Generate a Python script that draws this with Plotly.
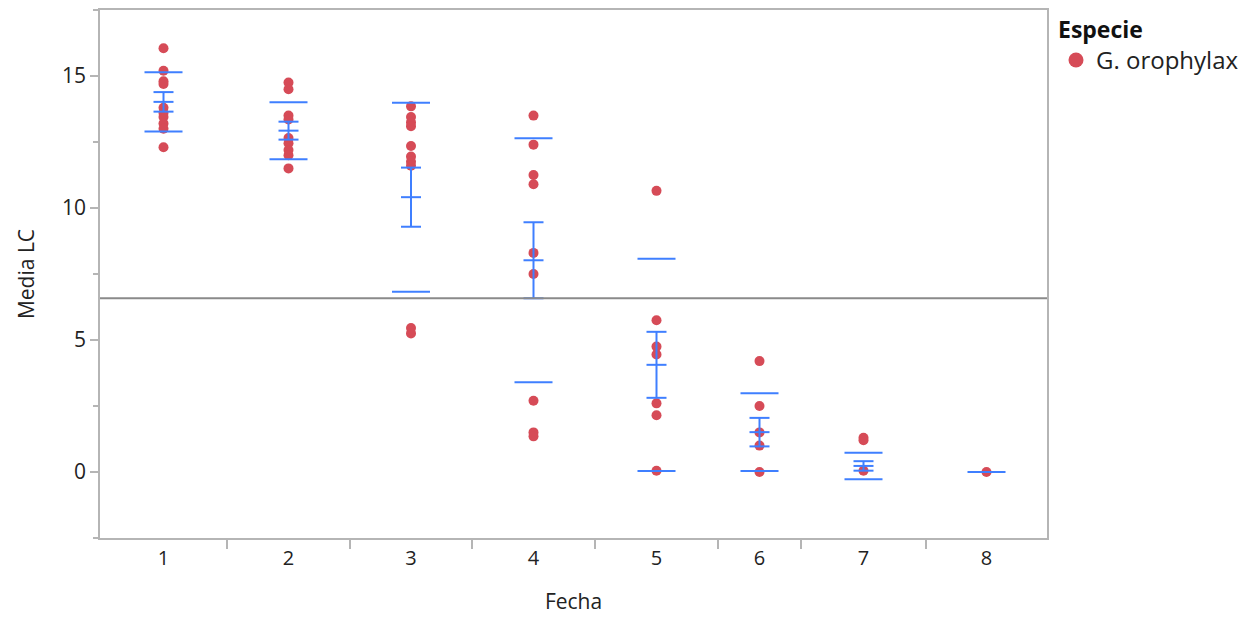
import plotly.graph_objects as go

# ---- data ----
fecha = ["1", "2", "3", "4", "5", "6", "7", "8"]
lc_1 = [16.05, 15.2, 14.8, 14.7, 13.8, 13.6, 13.45, 13.2, 13.0, 12.3]
lc_2 = [14.75, 14.5, 13.5, 13.35, 12.65, 12.45, 12.2, 12.0, 11.5]
lc_3 = [13.85, 13.45, 13.25, 13.1, 12.35, 11.95, 11.75, 11.6, 5.45, 5.25]
lc_4 = [13.5, 12.4, 11.25, 10.9, 8.3, 7.5, 2.7, 1.5, 1.35]
lc_5 = [10.65, 5.75, 4.75, 4.45, 2.6, 2.15, 0.05]
lc_6 = [4.2, 2.5, 1.5, 1.0, 0.0]
lc_7 = [1.3, 1.2, 0.05]
lc_8 = [0.0]
medias = [14.02, 12.93, 10.41, 8.02, 4.06, 1.51, 0.23, 0.0]
desv_est = [1.12, 1.08, 3.58, 4.62, 4.02, 1.47, 0.50, None]
err_est = [0.37, 0.34, 1.12, 1.44, 1.25, 0.54, 0.18, None]
media_global = 6.58

grupos = [lc_1, lc_2, lc_3, lc_4, lc_5, lc_6, lc_7, lc_8]

# ---- layout helpers (category widths as drawn by JMP) ----
anchos = [127, 123, 122, 123, 123, 83, 125, 121]
bordes = [0]
for w in anchos:
    bordes.append(bordes[-1] + w)
centros = [(bordes[i] + bordes[i + 1]) / 2 for i in range(len(anchos))]

ROJO = "#D64B57"
AZUL = "#3F7FFF"
GRIS = "#b5b5b5"
FONT = "Open Sans"

fig = go.Figure()

# points
xs, ys = [], []
for c, g in zip(centros, grupos):
    xs += [c] * len(g)
    ys += g
fig.add_trace(go.Scatter(
    x=xs, y=ys, mode="markers", name="G. orophylax",
    marker=dict(color=ROJO, size=10, line=dict(width=0)),
    showlegend=False, legendgroup="g",
))
# legend entry (larger symbol, as in the reference legend)
fig.add_trace(go.Scatter(
    x=[None], y=[None], mode="markers", name="G. orophylax",
    marker=dict(color=ROJO, size=15, line=dict(width=0)),
    showlegend=True, legendgroup="g",
))

# mean / error bars / std dev lines
LARGO = 19
CORTO = 10
lx, ly = [], []
for c, m, s, e in zip(centros, medias, desv_est, err_est):
    if s is None:
        lx += [c - LARGO, c + LARGO, None]
        ly += [m, m, None]
        continue
    for v in (m + s, m - s):
        lx += [c - LARGO, c + LARGO, None]
        ly += [v, v, None]
    for v in (m + e, m, m - e):
        lx += [c - CORTO, c + CORTO, None]
        ly += [v, v, None]
    lx += [c, c, None]
    ly += [m - e, m + e, None]
fig.add_trace(go.Scatter(
    x=lx, y=ly, mode="lines", line=dict(color=AZUL, width=2),
    showlegend=False, hoverinfo="skip",
))

# dummy trace for the boundary-tick axis
fig.add_trace(go.Scatter(
    x=[bordes[0], bordes[-1]], y=[None, None], xaxis="x2", mode="markers",
    showlegend=False, hoverinfo="skip",
))

fig.add_shape(type="line", xref="paper", x0=0, x1=1, yref="y",
              y0=media_global, y1=media_global,
              line=dict(color="#8a8a8a", width=2))

fig.update_layout(
    width=1250, height=611,
    margin=dict(l=92, r=211, t=0, b=81),
    paper_bgcolor="white", plot_bgcolor="white",
    font=dict(family=FONT, size=20, color="#222222"),
    showlegend=True,
    legend=dict(
        x=1.0095, y=1.004, xanchor="left", yanchor="top",
        title=dict(text="<b>Especie</b>", font=dict(size=23, color="#111111")),
        font=dict(size=24, color="#222222"),
        tracegroupgap=0, itemwidth=30,
        bgcolor="rgba(0,0,0,0)",
    ),
    xaxis=dict(
        range=[bordes[0], bordes[-1]],
        tickmode="array", tickvals=centros, ticktext=fecha,
        ticks="outside", ticklen=1, tickcolor="rgba(0,0,0,0)",
        showgrid=False, zeroline=False,
        showline=True, mirror=True, linecolor=GRIS, linewidth=1.5,
        title=dict(text="Fecha", font=dict(size=21), standoff=25),
        tickfont=dict(size=20),
    ),
    xaxis2=dict(
        range=[bordes[0], bordes[-1]], overlaying="x", anchor="y", side="bottom",
        tickmode="array", tickvals=bordes[1:-1], showticklabels=False,
        ticks="outside", ticklen=10, tickcolor=GRIS, tickwidth=1.5,
        showgrid=False, zeroline=False, showline=False,
    ),
    yaxis=dict(
        range=[-2.5, 17.5],
        tickmode="array", tickvals=[0, 5, 10, 15],
        ticks="outside", ticklen=8, tickcolor=GRIS, tickwidth=1.5,
        minor=dict(tickmode="array", tickvals=[-2.5, 2.5, 7.5, 12.5, 17.5],
                   ticks="outside", ticklen=5, tickcolor=GRIS, tickwidth=1.5),
        showgrid=False, zeroline=False,
        showline=True, mirror=True, linecolor=GRIS, linewidth=1.5,
        title=dict(text="Media LC", font=dict(size=21), standoff=22),
        tickfont=dict(size=21),
    ),
)

fig.write_html("out.html")
